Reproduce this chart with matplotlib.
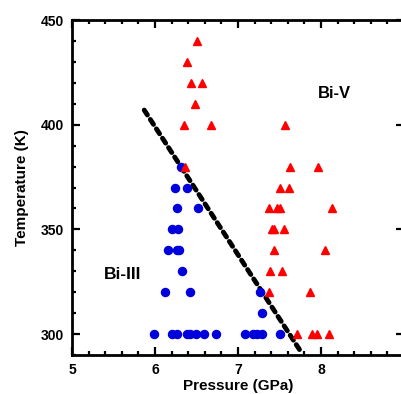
import numpy as np
import matplotlib
matplotlib.use("Agg")
from matplotlib import pyplot as plt
from matplotlib.ticker import MultipleLocator

plt.rcParams['font.family'] = ['Liberation Sans', 'DejaVu Sans']
plt.rcParams['font.weight'] = 'bold'

# Bi-III points (blue circles)
p3 = [5.99, 6.20, 6.26, 6.38, 6.42, 6.49, 6.59, 6.73, 7.08, 7.18, 7.23, 7.29, 7.51,
      7.29,
      6.12, 6.42, 7.26,
      6.32,
      6.16, 6.26, 6.29,
      6.20, 6.28,
      6.26, 6.52,
      6.24, 6.38,
      6.31]
t3 = [300] * 13 + [310] + [320] * 3 + [330] + [340] * 3 + [350] * 2 + [360] * 2 + [370] * 2 + [380]

# Bi-V points (red triangles)
p5 = [6.50, 6.38, 6.43, 6.57, 6.48, 6.35, 6.67, 6.36,
      7.57, 7.63, 7.96, 7.50, 7.61, 7.37, 7.47, 7.51, 8.13,
      7.41, 7.43, 7.55, 7.43, 8.05, 7.39, 7.53, 7.37, 7.87,
      7.71, 7.89, 7.95, 8.09]
t5 = [440, 430, 420, 420, 410, 400, 400, 380,
      400, 380, 380, 370, 370, 360, 360, 360, 360,
      350, 350, 350, 340, 340, 330, 330, 320, 320,
      300, 300, 300, 300]

# phase boundary
pb = [5.87, 7.75]
tb = [407, 292]

fig = plt.figure(figsize=(4.01, 3.94), dpi=100)
ax = fig.add_axes([0.1796, 0.099, 0.828, 0.850])

ax.plot(pb, tb, color='black', lw=3.5, linestyle=(0, (1.2, 1.1)),
        dash_capstyle='round', zorder=3)
ax.plot(p3, t3, 'o', color='#0000dd', ms=5.8, mec='#0000dd', zorder=4)
ax.plot(p5, t5, '^', color='#ff0000', ms=6.3, mec='#ff0000', zorder=4)

ax.text(8.16, 415, 'Bi-V', fontsize=12, fontweight='heavy', ha='center', va='center')
ax.text(5.61, 328.5, 'Bi-III', fontsize=12.5, fontweight='heavy', ha='center', va='center')

ax.set_xlim(5, 9)
ax.set_ylim(290, 450)
ax.set_xticks([5, 6, 7, 8, 9])
ax.set_xticklabels(['5', '6', '7', '8', ''])
ax.set_yticks([300, 350, 400, 450])
ax.xaxis.set_minor_locator(MultipleLocator(0.2))
ax.yaxis.set_minor_locator(MultipleLocator(10))
ax.tick_params(which='both', direction='in', top=True, right=True, width=1.6,
               labelsize=10)
ax.tick_params(which='major', length=6)
ax.tick_params(which='minor', length=3, right=False)
ax.tick_params(axis='x', pad=6)
ax.tick_params(axis='y', pad=6)
for s in ax.spines.values():
    s.set_linewidth(2)

ax.set_xlabel('Pressure (GPa)', fontsize=11, fontweight='bold', labelpad=1)
ax.set_ylabel('Temperature (K)', fontsize=11, fontweight='bold', labelpad=8)

plt.savefig('out.png', dpi=100)
